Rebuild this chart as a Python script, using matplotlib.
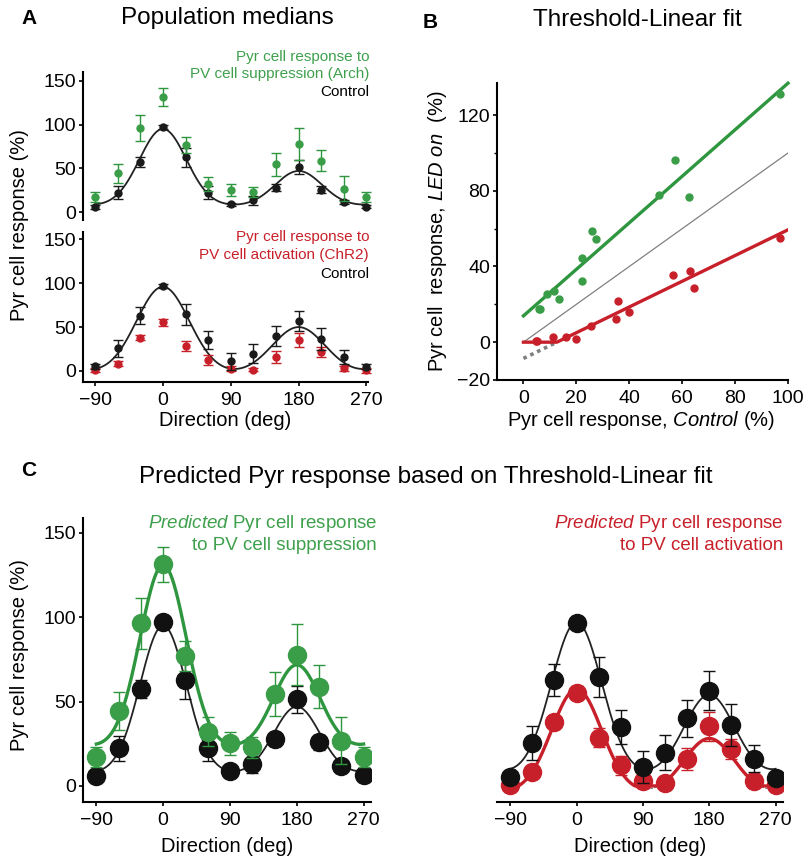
import numpy as np
import matplotlib
matplotlib.use('Agg')
import matplotlib.pyplot as plt

plt.rcParams['font.family'] = ['Liberation Sans', 'DejaVu Sans']
plt.rcParams['mathtext.fontset'] = 'custom'
plt.rcParams['mathtext.rm'] = 'Liberation Sans'
plt.rcParams['mathtext.it'] = 'Liberation Sans:italic'

# ---------------- data ----------------
directions = [-90, -60, -30, 0, 30, 60, 90, 120, 150, 180, 210, 240, 270]

# Arch experiment (PV suppression)
ctrl_arch = [5.8, 22.2, 57.3, 97.0, 62.5, 22.2, 8.9, 13.3, 27.6, 51.4, 25.8, 11.7, 6.3]
ctrl_arch_err = [2, 7.5, 5.5, 2, 11, 7.5, 2, 5.5, 4, 8, 4.5, 2, 2]
arch = [17.3, 44.4, 96.4, 131.3, 76.8, 32.1, 25.2, 22.8, 54.6, 77.8, 58.9, 26.8, 17.3]
arch_err = [6, 11, 15, 10.5, 9, 8.5, 7, 6, 13, 18, 12.5, 14, 6]

# ChR2 experiment (PV activation)
ctrl_chr2 = [5.3, 25.6, 63.0, 96.8, 64.5, 35.0, 11.0, 19.8, 40.0, 56.5, 35.9, 16.0, 4.8]
ctrl_chr2_err = [3, 10, 9.5, 2, 12, 10, 9.5, 10.5, 11, 11.5, 12.5, 8, 3]
chr2 = [0.8, 8.4, 37.8, 55.3, 28.6, 12.2, 2.7, 1.5, 16.0, 35.3, 21.8, 2.9, 0.8]
chr2_err = [2.5, 3, 3, 4, 5.5, 5.5, 3, 2, 6.5, 8.5, 6, 2.5, 3]

# tuning-curve fit parameters (baseline, amplitude at 0, amplitude at 180, width)
fit_ctrl_arch = (7, 88, 40, 31)
fit_ctrl_chr2_A = (-3, 99, 53, 35)
fit_ctrl_chr2_C = (6, 91, 48, 34)

# threshold-linear fit parameters
arch_slope, arch_icpt = 1.23, 13.9
chr2_slope, chr2_icpt = 0.68, -8.6
b_xrange = [0, 100]

dir_ticks = [-90, 0, 90, 180, 270]
dir_ticklabels = ['\u221290', '0', '90', '180', '270']

GREEN = '#2f9640'
GREEN_MK = '#3a9d48'
GREEN_TXT = '#3ea04c'
RED = '#c8202a'
GREY = '#808080'

# ---------------- helpers ----------------
W, H = 807, 858
fig = plt.figure(figsize=(W / 100, H / 100), dpi=100)


def ax_px(left, top, right, bottom):
    return fig.add_axes([left / W, 1 - bottom / H, (right - left) / W, (bottom - top) / H])


def ftext(x, y, s, **kw):
    return fig.text(x / W, 1 - y / H, s, **kw)


def tuning(theta, base, a0, a180, sigma):
    theta = np.asarray(theta, dtype=float)
    d0 = (theta + 180) % 360 - 180
    d1 = (theta - 180 + 180) % 360 - 180
    return base + a0 * np.exp(-d0 ** 2 / (2 * sigma ** 2)) + a180 * np.exp(-d1 ** 2 / (2 * sigma ** 2))


def style(ax, left=True, bottom=True, fs=14):
    for s in ['top', 'right']:
        ax.spines[s].set_visible(False)
    ax.spines['left'].set_visible(left)
    ax.spines['bottom'].set_visible(bottom)
    for s in ['left', 'bottom']:
        ax.spines[s].set_linewidth(1.5)
    ax.tick_params(direction='out', length=3, width=1.2, labelsize=fs, pad=2)
    ax.tick_params(axis='x', pad=4)
    ax.patch.set_alpha(0)
    if not left:
        ax.set_yticks([])
    if not bottom:
        ax.set_xticks([])


theta = np.linspace(directions[0], directions[-1], 800)

# ---------------- Panel A ----------------
axA1 = ax_px(83, 72, 368, 220)
axA1.set_xlim(-106, 272)
axA1.set_ylim(-9, 160)
style(axA1, bottom=False)
axA1.set_yticks([0, 50, 100, 150])
axA1.plot(theta, tuning(theta, *fit_ctrl_arch), color='#222222', lw=1.3, zorder=2)
axA1.errorbar(directions, ctrl_arch, yerr=ctrl_arch_err, fmt='o', color='#1a1a1a', ms=5,
              capsize=3.5, elinewidth=1, capthick=1, zorder=3, clip_on=False)
axA1.errorbar(directions, arch, yerr=arch_err, fmt='o', color=GREEN_MK, ecolor=GREEN, ms=5,
              capsize=3.5, elinewidth=1, capthick=1, zorder=4, clip_on=False)

axA2 = ax_px(83, 232, 368, 382)
axA2.set_xlim(-106, 272)
axA2.set_ylim(-12.6, 158.4)
style(axA2)
axA2.set_yticks([0, 50, 100, 150])
axA2.set_xticks(dir_ticks)
axA2.set_xticklabels(dir_ticklabels)
axA2.plot(theta, tuning(theta, *fit_ctrl_chr2_A), color='#222222', lw=1.3, zorder=2)
axA2.errorbar(directions, chr2, yerr=chr2_err, fmt='o', color=RED, ms=5,
              capsize=3.5, elinewidth=1, capthick=1, zorder=3, clip_on=False)
axA2.errorbar(directions, ctrl_chr2, yerr=ctrl_chr2_err, fmt='o', color='#1a1a1a', ms=5,
              capsize=3.5, elinewidth=1, capthick=1, zorder=4, clip_on=False)

ftext(29, 18, 'A', fontsize=15, fontweight='bold', ha='center', va='center')
ftext(227, 18, 'Population medians', fontsize=17.5, ha='center', va='center')
ftext(20, 225, 'Pyr cell response (%)', fontsize=14.5, rotation=90, ha='center', va='center')
ftext(225, 420, 'Direction (deg)', fontsize=14.5, ha='center', va='center')

ftext(369, 57, 'Pyr cell response to', fontsize=11, color=GREEN_TXT, ha='right', va='center')
ftext(369, 74, 'PV cell suppression (Arch)', fontsize=11, color=GREEN_TXT, ha='right', va='center')
ftext(369, 92, 'Control', fontsize=11, color='black', ha='right', va='center')

ftext(369, 237, 'Pyr cell response to', fontsize=11, color=RED, ha='right', va='center')
ftext(369, 255, 'PV cell activation (ChR2)', fontsize=11, color=RED, ha='right', va='center')
ftext(369, 274, 'Control', fontsize=11, color='black', ha='right', va='center')

# ---------------- Panel B ----------------
axB = ax_px(497, 83, 788, 380)
axB.set_xlim(-10, 100)
axB.set_ylim(-20, 137)
style(axB)
axB.set_xticks([0, 20, 40, 60, 80, 100])
axB.set_yticks([-20, 0, 40, 80, 120])
axB.set_yticks([20, 60, 100], minor=True)
axB.tick_params(which='minor', direction='out', length=2.5, width=1.0)
xb = np.linspace(b_xrange[0], b_xrange[1], 400)
axB.plot(b_xrange, b_xrange, color=GREY, lw=0.9, zorder=1)
lin_red = chr2_slope * xb + chr2_icpt
below = np.where(lin_red < 0, lin_red, np.nan)
axB.plot(xb, below, color=GREY, lw=2.6, linestyle=(0, (1, 1.1)), zorder=1)
axB.plot(xb, arch_slope * xb + arch_icpt, color=GREEN, lw=2.4, zorder=2, clip_on=False)
axB.plot(xb, np.maximum(0, lin_red), color=RED, lw=2.4, zorder=2)
axB.plot(ctrl_arch, arch, 'o', color=GREEN_MK, ms=5, zorder=3)
axB.plot(ctrl_chr2, chr2, 'o', color=RED, ms=5, zorder=3)

ftext(430, 22, 'B', fontsize=15, fontweight='bold', ha='center', va='center')
ftext(637, 20, 'Threshold-Linear fit', fontsize=17.5, ha='center', va='center')
ftext(437, 231, 'Pyr cell  response, $\\mathit{LED\\ on}$  (%)', fontsize=14.5, rotation=90,
      ha='center', va='center')
ftext(641, 421, 'Pyr cell response, $\\mathit{Control}$ (%)', fontsize=14.5, ha='center', va='center')

# ---------------- Panel C ----------------
ftext(29, 471, 'C', fontsize=15, fontweight='bold', ha='center', va='center')
ftext(426, 477, 'Predicted Pyr response based on Threshold-Linear fit', fontsize=17.5,
      ha='center', va='center')

axC1 = ax_px(83, 518, 371, 802)
axC1.set_xlim(-108, 280)
axC1.set_ylim(-9.5, 158.7)
style(axC1)
axC1.set_yticks([0, 50, 100, 150])
axC1.set_xticks(dir_ticks)
axC1.set_xticklabels(dir_ticklabels)
ctrl_fit_C1 = tuning(theta, *fit_ctrl_arch)
axC1.plot(theta, ctrl_fit_C1, color='#222222', lw=1.3, zorder=2)
axC1.plot(theta, arch_slope * ctrl_fit_C1 + arch_icpt, color=GREEN, lw=2.4, zorder=2)
axC1.errorbar(directions, ctrl_arch, yerr=ctrl_arch_err, fmt='o', color='#111111', ms=13,
              capsize=4, elinewidth=1, capthick=1, zorder=3)
axC1.errorbar(directions, arch, yerr=arch_err, fmt='o', color=GREEN_MK, ecolor=GREEN, ms=13,
              capsize=4, elinewidth=1, capthick=1, zorder=4)
ftext(377, 524, '$\\mathit{Predicted}$ Pyr cell response', fontsize=13.5, color=GREEN_TXT,
      ha='right', va='center')
ftext(377, 545, 'to PV cell suppression', fontsize=13.5, color=GREEN_TXT, ha='right', va='center')
ftext(227, 846, 'Direction (deg)', fontsize=14.5, ha='center', va='center')
ftext(20, 655, 'Pyr cell response (%)', fontsize=14.5, rotation=90, ha='center', va='center')

axC2 = ax_px(497, 518, 783, 802)
axC2.set_xlim(-108, 280)
axC2.set_ylim(-9.5, 158.7)
style(axC2, left=False)
axC2.set_xticks(dir_ticks)
axC2.set_xticklabels(dir_ticklabels)
ctrl_fit_C2 = tuning(theta, *fit_ctrl_chr2_C)
pred_red = chr2_slope * ctrl_fit_C2 + chr2_icpt
axC2.plot(theta, ctrl_fit_C2, color='#222222', lw=1.3, zorder=2)
axC2.plot(theta, pred_red, color=GREY, lw=0.9, linestyle=(0, (2, 1.2)), zorder=1)
axC2.plot(theta, np.maximum(0, pred_red), color=RED, lw=2.4, zorder=2)
axC2.errorbar(directions, chr2, yerr=chr2_err, fmt='o', color=RED, ms=13,
              capsize=4, elinewidth=1, capthick=1, zorder=3)
axC2.errorbar(directions, ctrl_chr2, yerr=ctrl_chr2_err, fmt='o', color='#111111', ms=13,
              capsize=4, elinewidth=1, capthick=1, zorder=4)
ftext(783, 524, '$\\mathit{Predicted}$ Pyr cell response', fontsize=13.5, color=RED,
      ha='right', va='center')
ftext(783, 545, 'to PV cell activation', fontsize=13.5, color=RED, ha='right', va='center')
ftext(640, 846, 'Direction (deg)', fontsize=14.5, ha='center', va='center')

fig.savefig('out.png', dpi=100)
